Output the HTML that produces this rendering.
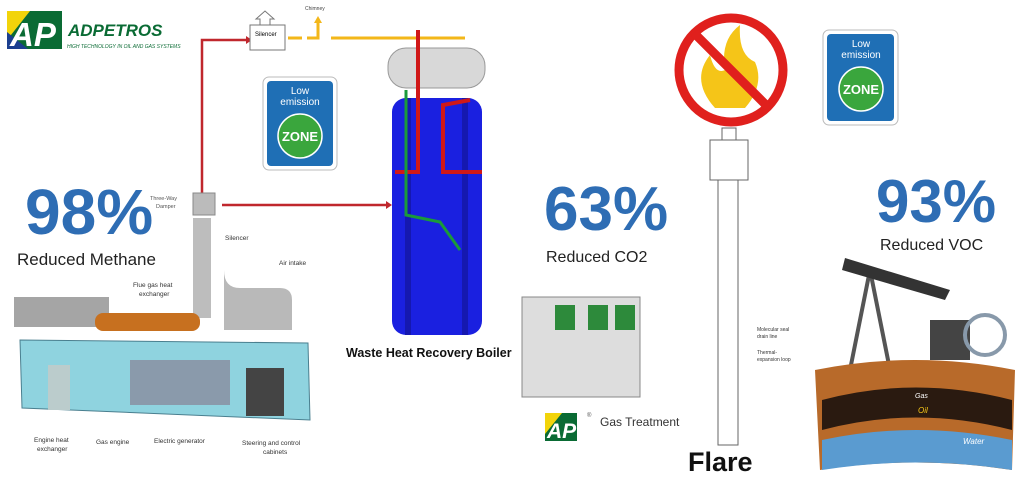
<!DOCTYPE html>
<html><head><meta charset="utf-8"><style>
html,body{margin:0;padding:0;background:#fff;width:1024px;height:484px;overflow:hidden}
svg{display:block;font-family:"Liberation Sans",sans-serif}
</style></head><body>
<svg width="1024" height="484" viewBox="0 0 1024 484" xmlns="http://www.w3.org/2000/svg">
<!-- Logo -->
<rect x="7" y="11" width="55" height="38" fill="#0a6b34"/>
<polygon points="7,11 30,11 7,40" fill="#f2d40a"/>
<polygon points="7,49 7,32 28,49" fill="#1b3f8f"/>
<text x="10" y="46" font-size="33" font-weight="bold" font-style="italic" fill="#fff">AP</text>
<text x="68" y="36" font-size="17" font-weight="bold" font-style="italic" fill="#0a6b34">ADPETROS</text>
<text x="67" y="48" font-size="5" font-style="italic" fill="#0a6b34">HIGH TECHNOLOGY IN OIL AND GAS SYSTEMS</text>
<!-- red pipes -->
<polyline points="202,195 202,40 246,40" fill="none" stroke="#c0272d" stroke-width="2.5"/>
<polygon points="246,36 252,40 246,44" fill="#c0272d"/>
<line x1="222" y1="205" x2="388" y2="205" stroke="#c0272d" stroke-width="2.5"/>
<polygon points="386,201 392,205 386,209" fill="#c0272d"/>
<!-- silencer top -->
<rect x="250" y="25" width="35" height="25" fill="#fff" stroke="#777"/>
<text x="255" y="36" font-size="6">Silencer</text>
<polygon points="260,25 260,19 256,19 265,11 274,19 270,19 270,25" fill="#fff" stroke="#777"/>
<line x1="288" y1="38" x2="302" y2="38" stroke="#f3b71a" stroke-width="3"/>
<polyline points="307,38 318,38 318,22" fill="none" stroke="#f3b71a" stroke-width="3"/>
<polygon points="314,23 318,16 322,23" fill="#f3b71a"/>
<text x="305" y="10" font-size="5" fill="#444">Chimney</text>
<line x1="331" y1="38" x2="465" y2="38" stroke="#f3b71a" stroke-width="3"/>
<!-- sign 1 -->
<rect x="263" y="77" width="74" height="93" rx="6" fill="#fff" stroke="#bbb"/>
<rect x="267" y="81" width="66" height="85" rx="4" fill="#1f6fb5"/>
<text x="300" y="94" font-size="10" fill="#fff" text-anchor="middle">Low</text>
<text x="300" y="105" font-size="10" fill="#fff" text-anchor="middle">emission</text>
<circle cx="300" cy="136" r="22" fill="#3aa63d" stroke="#fff" stroke-width="1.5"/>
<text x="300" y="141" font-size="13" font-weight="bold" fill="#fff" text-anchor="middle">ZONE</text>
<!-- damper -->
<rect x="193" y="193" width="22" height="22" fill="#bbb" stroke="#888"/>
<text x="150" y="200" font-size="5.5" fill="#555">Three-Way</text>
<text x="156" y="208" font-size="5.5" fill="#555">Damper</text>
<!-- boiler -->
<rect x="388" y="48" width="97" height="40" rx="18" fill="#d8d8d8" stroke="#999"/>
<rect x="392" y="98" width="90" height="237" rx="14" fill="#1a20e0"/>
<rect x="405" y="98" width="6" height="237" fill="#1518b0"/>
<rect x="462" y="98" width="6" height="237" fill="#1518b0"/>
<polyline points="418,30 418,172 395,172" fill="none" stroke="#d01818" stroke-width="4"/>
<polyline points="470,100 443,105 443,172 482,172" fill="none" stroke="#d01818" stroke-width="4"/>
<polyline points="406,90 406,215 440,222 460,250" fill="none" stroke="#1a9a3a" stroke-width="3"/>
<text x="346" y="357" font-size="12.5" font-weight="bold" fill="#111">Waste Heat Recovery Boiler</text>
<!-- 98% -->
<text x="25" y="234" font-size="64" font-weight="bold" fill="#2e6db4">98%</text>
<text x="17" y="265" font-size="17" fill="#222">Reduced Methane</text>
<!-- generator container -->
<rect x="193" y="218" width="18" height="100" fill="#bdbdbd"/>
<text x="225" y="240" font-size="6.5" fill="#333">Silencer</text>
<text x="279" y="265" font-size="6.5" fill="#333">Air intake</text>
<text x="133" y="287" font-size="6.5" fill="#333">Flue gas heat</text>
<text x="139" y="296" font-size="6.5" fill="#333">exchanger</text>
<path d="M224,300 L224,270 Q224,288 240,288 L280,288 Q292,288 292,300 L292,330 L224,330Z" fill="#b9b9b9"/>
<rect x="14" y="297" width="95" height="30" fill="#a5a5a5"/>
<rect x="95" y="313" width="105" height="18" rx="8" fill="#c7701f"/>
<polygon points="20,340 308,343 310,420 22,408" fill="#8fd3df" stroke="#4a7f8f"/>
<rect x="130" y="360" width="100" height="45" fill="#8a9aab"/>
<rect x="246" y="368" width="38" height="48" fill="#444"/>
<rect x="48" y="365" width="22" height="45" fill="#bcc"/>
<text x="34" y="442" font-size="6.5" fill="#333">Engine heat</text>
<text x="37" y="451" font-size="6.5" fill="#333">exchanger</text>
<text x="96" y="444" font-size="6.5" fill="#333">Gas engine</text>
<text x="154" y="443" font-size="6.5" fill="#333">Electric generator</text>
<text x="242" y="445" font-size="6.5" fill="#333">Steering and control</text>
<text x="263" y="454" font-size="6.5" fill="#333">cabinets</text>
<!-- 63% -->
<text x="544" y="230" font-size="62" font-weight="bold" fill="#2e6db4">63%</text>
<text x="546" y="262" font-size="16" fill="#222">Reduced CO2</text>
<rect x="522" y="297" width="118" height="100" fill="#ddd" stroke="#888"/>
<rect x="555" y="305" width="20" height="25" fill="#2d8a3b"/>
<rect x="588" y="305" width="20" height="25" fill="#2d8a3b"/>
<rect x="615" y="305" width="20" height="25" fill="#2d8a3b"/>
<rect x="545" y="413" width="32" height="28" fill="#0a6b34"/>
<polygon points="545,413 562,413 545,434" fill="#f2d40a"/>
<text x="547" y="438" font-size="21" font-weight="bold" font-style="italic" fill="#fff">AP</text>
<text x="587" y="417" font-size="6" fill="#555">®</text>
<text x="600" y="426" font-size="12" fill="#333">Gas Treatment</text>
<!-- no fire sign -->
<path d="M715,108 Q690,80 710,55 Q715,75 725,70 Q720,40 740,25 Q738,55 755,62 Q765,85 745,108Z" fill="#f5c518"/>
<circle cx="731" cy="70" r="52" fill="none" stroke="#e0201d" stroke-width="9"/>
<line x1="694" y1="33" x2="768" y2="107" stroke="#e0201d" stroke-width="9"/>
<!-- flare -->
<rect x="710" y="140" width="38" height="40" fill="#fff" stroke="#666"/>
<rect x="718" y="180" width="20" height="265" fill="#fff" stroke="#666"/>
<rect x="722" y="128" width="14" height="12" fill="#fff" stroke="#666"/>
<text x="757" y="331" font-size="5" fill="#333">Molecular seal</text>
<text x="757" y="338" font-size="5" fill="#333">drain line</text>
<text x="757" y="354" font-size="5" fill="#333">Thermal-</text>
<text x="757" y="361" font-size="5" fill="#333">expansion loop</text>
<text x="688" y="471" font-size="27" font-weight="bold" fill="#111">Flare</text>
<!-- sign 2 -->
<rect x="823" y="30" width="75" height="95" rx="6" fill="#fff" stroke="#bbb"/>
<rect x="827" y="34" width="67" height="87" rx="4" fill="#1f6fb5"/>
<text x="861" y="47" font-size="10" fill="#fff" text-anchor="middle">Low</text>
<text x="861" y="58" font-size="10" fill="#fff" text-anchor="middle">emission</text>
<circle cx="861" cy="89" r="22" fill="#3aa63d" stroke="#fff" stroke-width="1.5"/>
<text x="861" y="94" font-size="13" font-weight="bold" fill="#fff" text-anchor="middle">ZONE</text>
<!-- 93% -->
<text x="876" y="222" font-size="60" font-weight="bold" fill="#2e6db4">93%</text>
<text x="880" y="250" font-size="16" fill="#222">Reduced VOC</text>
<!-- oil pump / earth -->
<polyline points="850,370 870,270 890,370" fill="none" stroke="#555" stroke-width="4"/>
<polygon points="845,258 950,290 945,300 842,270" fill="#333"/>
<rect x="930" y="320" width="40" height="40" fill="#444"/>
<ellipse cx="985" cy="335" rx="20" ry="20" fill="none" stroke="#89a" stroke-width="4"/>
<path d="M815,370 Q915,350 1015,370 L1012,470 Q915,455 820,470Z" fill="#b86a2a"/>
<path d="M822,400 Q915,375 1012,400 L1012,430 Q915,405 822,430Z" fill="#2a1a10"/>
<path d="M822,440 Q915,420 1012,440 L1012,470 Q915,455 822,470Z" fill="#5a9bd0"/>
<text x="915" y="398" font-size="7" font-style="italic" fill="#fff">Gas</text>
<text x="918" y="413" font-size="8" font-style="italic" fill="#f5c518">Oil</text>
<text x="963" y="444" font-size="8" font-style="italic" fill="#fff">Water</text>
</svg>
</body></html>
